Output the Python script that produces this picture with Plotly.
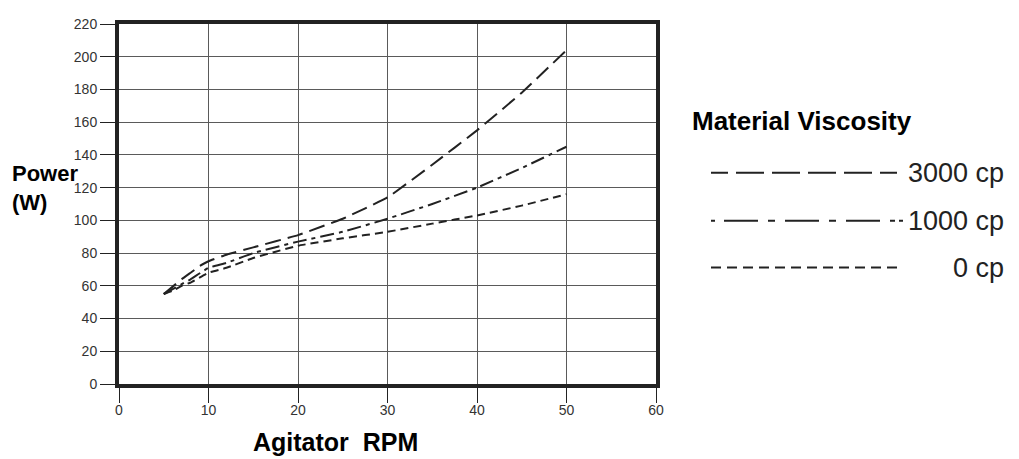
import plotly.graph_objects as go

rpm_3000 = [5, 6, 7, 8, 9, 10, 12, 15, 20, 25, 30, 35, 40, 45, 50]
pow_3000 = [55, 59.5, 64, 68, 72, 75, 79, 83.5, 91, 101, 114, 134, 155, 178, 204]

rpm_1000 = [5, 6, 7, 8, 10, 12, 15, 20, 25, 30, 35, 40, 45, 50]
pow_1000 = [55, 58, 61, 64, 71, 74, 80, 87, 93, 101, 110, 120, 132, 145]

rpm_0 = [5, 6, 7, 8, 10, 12, 15, 20, 25, 30, 35, 40, 45, 50]
pow_0 = [55, 57, 60, 62, 68, 71, 77, 84.5, 89, 93, 98, 103, 109, 116]

series_names = ["3000 cp", "1000 cp", "0 cp"]
x_ticks = [0, 10, 20, 30, 40, 50, 60]
y_ticks = list(range(0, 221, 20))

INK = "#222222"
DASHES = ["16px,7px", "14px,5px,4px,5px", "8px,5px"]
LEGEND_DASHES = [
    "17px,8px,28px,8px,28px,8px,28px,8px,28px,8px,17px",
    "4px,9px,34px,10px,7px,10px,34px,10px,7px,10px,34px,10px,5px",
    "10px,6px",
]
FONT = "Liberation Sans, Arial, Helvetica, sans-serif"

fig = go.Figure()
for xs, ys, dash, name in zip([rpm_3000, rpm_1000, rpm_0], [pow_3000, pow_1000, pow_0], DASHES, series_names):
    fig.add_trace(go.Scatter(x=xs, y=ys, mode="lines", name=name, showlegend=False,
                             line=dict(color=INK, width=2, dash=dash, shape="spline", smoothing=0.3)))

# page body has an 8px margin: lay out in window pixels, then shift
OFF = 8
W, H = 1019 - OFF, 459 - OFF
L, R, T, B = 119, 656, 16, 384
def px(x):
    return (x - L) / (R - L)
def py(y):
    return (B - y) / (B - T)

axis_common = dict(showgrid=True, gridcolor="#5a5a5a", gridwidth=1, zeroline=False,
                   showline=True, linecolor=INK, linewidth=4, mirror=True,
                   ticks="outside", ticklen=15, tickcolor=INK, tickwidth=1,
                   tickfont=dict(family=FONT, size=14, color="#333333"))
fig.update_xaxes(range=[0, 60], tickvals=x_ticks, ticklabelstandoff=-5, **axis_common)
fig.update_yaxes(range=[0, 220], tickvals=y_ticks, **axis_common)

annotations = [
    dict(text="<b>Power<br>(W)</b>", x=px(10), y=py(184), xref="paper", yref="paper",
         xanchor="left", yanchor="middle", align="left", showarrow=False,
         font=dict(family=FONT, size=22, color="black")),
    dict(text="<b>Agitator\u00a0 RPM</b>", x=px(335), y=py(443), xref="paper", yref="paper",
         xanchor="center", yanchor="middle", showarrow=False,
         font=dict(family=FONT, size=25, color="black")),
    dict(text="<b>Material Viscosity</b>", x=px(690), y=py(115), xref="paper", yref="paper",
         xanchor="left", yanchor="middle", showarrow=False,
         font=dict(family=FONT, size=26, color="black")),
]
shapes = []
leg_y = [168, 217, 265]
leg_end = [903, 903, 898]
for name, dash, yy, xe in zip(series_names, LEGEND_DASHES, leg_y, leg_end):
    shapes.append(dict(type="line", xref="paper", yref="paper", x0=px(711), x1=px(xe),
                       y0=py(yy), y1=py(yy), line=dict(color=INK, width=2, dash=dash)))
    annotations.append(dict(text=name, x=px(1006), y=py(yy), xref="paper", yref="paper",
                            xanchor="right", yanchor="middle", showarrow=False,
                            font=dict(family=FONT, size=27, color="#222222")))

fig.update_layout(width=W, height=H,
                  margin=dict(l=L - OFF, r=(W + OFF) - R, t=T - OFF, b=(H + OFF) - B),
                  paper_bgcolor="white", plot_bgcolor="white",
                  annotations=annotations, shapes=shapes, showlegend=False)
fig.write_html("out.html")
